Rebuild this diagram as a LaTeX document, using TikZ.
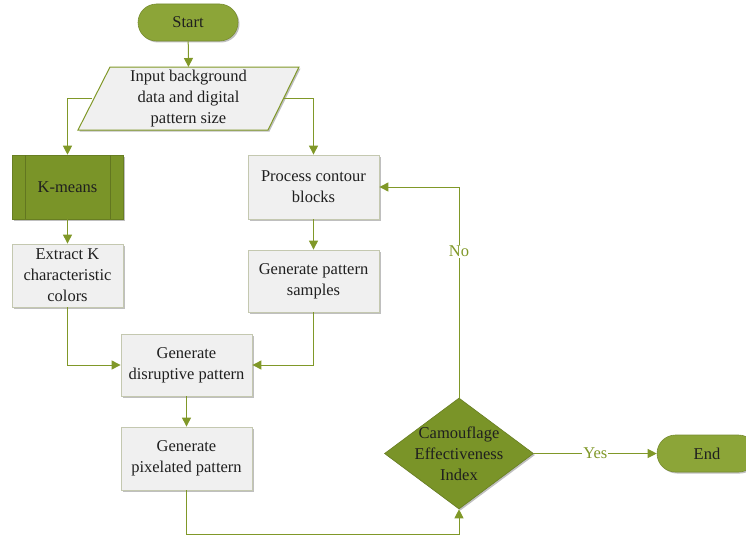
\documentclass[tikz,border=0pt]{standalone}
\usepackage{fontspec}
\setmainfont{Liberation Serif}
\usetikzlibrary{arrows.meta,shapes.geometric,shadows}
\definecolor{lineg}{RGB}{128,152,40}
\definecolor{termg}{RGB}{140,165,56}
\definecolor{darkg}{RGB}{122,148,40}
\definecolor{boxfill}{RGB}{240,240,240}
\definecolor{boxline}{RGB}{196,200,176}
\tikzset{
  every node/.style={font=\fontsize{16.5}{21}\selectfont, align=center, text=black!88},
  shad/.style={drop shadow={shadow xshift=1.5pt,shadow yshift=-1.5pt,opacity=0.25,fill=black}},
  term/.style={rounded corners=18.5pt, minimum width=100pt, minimum height=37pt, fill=termg, draw=termg!85!black, line width=0.6pt, inner sep=0pt, shad},
  procbox/.style={rectangle, fill=boxfill, draw=boxline, line width=0.8pt, inner sep=0pt, shad},
  kbox/.style={rectangle, fill=darkg, draw=darkg!85!black, line width=0.6pt, inner sep=0pt, shad},
  conn/.style={draw=lineg, line width=1pt, -{Triangle[length=9pt,width=9pt]}},
  lab/.style={fill=white, text=lineg, inner sep=1pt}
}
\begin{document}
\begin{tikzpicture}[x=1pt,y=-1pt]
\useasboundingbox (0,0) rectangle (746,535);
\begin{scope}
\clip (0,0) rectangle (746,535);
% nodes
\node[term] (start) at (188,22.5) {Start};
\fill[black,opacity=0.25] (111.5,68.5) -- (300.5,68.5) -- (269.5,131.5) -- (79.5,131.5) -- cycle;
\filldraw[fill=boxfill, draw=lineg, line width=1pt] (110,67) -- (299,67) -- (268,130) -- (78,130) -- cycle;
\node[inner sep=0pt] (input) at (188.5,99) {Input background\\data and digital\\pattern size};
\node[kbox, minimum width=111pt, minimum height=64pt] (kmeans) at (67.5,187) {K-means};
\draw[darkg!80!black, line width=0.6pt] (25,155) -- (25,219) (110,155) -- (110,219);
\node[procbox, minimum width=131pt, minimum height=64pt] (contour) at (313.5,187) {Process contour\\blocks};
\node[procbox, minimum width=111pt, minimum height=63pt] (extract) at (67.5,275.5) {Extract K\\characteristic\\colors};
\node[procbox, minimum width=131pt, minimum height=62pt] (samples) at (313.5,281) {Generate pattern\\samples};
\node[procbox, minimum width=131pt, minimum height=62pt] (disrupt) at (186.5,365) {Generate\\disruptive pattern};
\node[procbox, minimum width=131pt, minimum height=63pt] (pixel) at (186.5,458.5) {Generate\\pixelated pattern};
\node[diamond, fill=darkg, draw=darkg!85!black, line width=0.6pt, inner sep=0pt, minimum width=149pt, minimum height=111pt, shape aspect=1.34, shad] (cei) at (459,453.5) {};
\node at (cei.center) {Camouflage\\Effectiveness\\Index};
\node[term] (end) at (707,453.5) {End};
% connectors
\draw[conn] (start) -- (188.5,67);
\coordinate (inl) at (92,98);
\coordinate (inr) at (284,98);
\draw[conn] (inl) -| (kmeans.north);
\draw[conn] (inr) -| (contour.north);
\draw[conn] (kmeans) -- (extract);
\draw[conn] (contour) -- (samples);
\draw[conn] (extract.south) |- (disrupt.west);
\draw[conn] (samples.south) |- (disrupt.east);
\draw[conn] (disrupt) -- (pixel);
\draw[conn] (pixel.south) -- (186.5,534) -| (cei.south);
\draw[conn] (cei.north) |- (contour.east) node[lab, pos=0.348] {No};
\draw[conn] (cei.east) -- (end.west) node[lab, midway] {Yes};
\end{scope}
\end{tikzpicture}
\end{document}
